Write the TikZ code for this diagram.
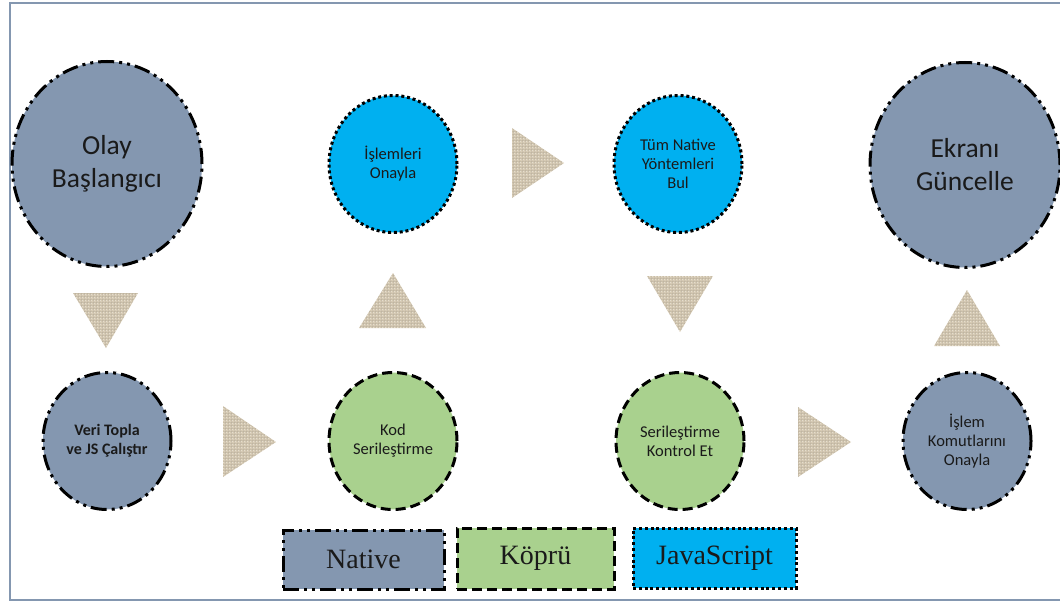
\documentclass[tikz,border=0pt]{standalone}
\usepackage{fontspec}
\setmainfont{Carlito}
\newfontfamily\legendfont{Liberation Serif}
\usetikzlibrary{shapes.geometric,patterns}
\definecolor{natfill}{HTML}{8497B0}
\definecolor{brfill}{HTML}{A9D18E}
\definecolor{jsfill}{HTML}{00B0F0}
\definecolor{framec}{HTML}{8497B0}
\definecolor{tric}{HTML}{D6CAB3}
\definecolor{txt}{HTML}{1A1A1A}
\tikzset{
  nativeline/.style={line width=3pt, dash pattern=on 16pt off 5pt on 3pt off 5pt on 3pt off 5pt},
  bridgeline/.style={line width=3pt, dash pattern=on 10pt off 5pt},
  jsline/.style={line width=3pt, dash pattern=on 3pt off 2.8pt},
  bignode/.style={ellipse, inner sep=0pt, minimum width=190pt, minimum height=205pt, align=center, text=txt, font=\fontsize{27.5}{33}\selectfont},
  smallnode/.style={ellipse, inner sep=0pt, minimum width=128pt, minimum height=137pt, align=center, text=txt, font=\fontsize{16.5}{19}\selectfont},
  natnode/.style={fill=natfill, draw=black, nativeline},
  brnode/.style={fill=brfill, draw=black, bridgeline},
  jsnode/.style={fill=jsfill, draw=black, jsline},
  legendbox/.style={inner sep=0pt, text=txt, font=\legendfont\fontsize{28}{32}\selectfont},
  tri/.style={fill=tric},
  tritexa/.style={pattern=crosshatch dots, pattern color=white, opacity=0.45},
  tritexb/.style={pattern=grid, pattern color=black, opacity=0.06},
}
\begin{document}
\begin{tikzpicture}[x=1pt,y=-1pt]
\useasboundingbox (0,0) rectangle (1060,602);
% frame
\draw[framec, line width=2pt] (9,3) -- (1060,3);
\draw[framec, line width=2.6pt] (10,2) -- (10,601);
\draw[framec, line width=1.5pt] (9,600) -- (1060,600);

% circles
\node[bignode, natnode] (olay) at (107,164) {Olay\\Başlangıcı};
\node[smallnode, jsnode] (onayla) at (393,164) {İşlemleri\\Onayla};
\node[smallnode, jsnode] (bul) at (678,164) {Tüm Native\\Yöntemleri\\Bul};
\node[bignode, natnode] (ekran) at (965,165) {Ekranı\\Güncelle};
\node[smallnode, natnode, font=\bfseries\fontsize{16}{19}\selectfont] (veri) at (107,441) {Veri Topla\\ve JS Çalıştır};
\node[smallnode, brnode] (kod) at (393,441) {Kod\\Serileştirme};
\node[smallnode, brnode] (kontrol) at (680,441) {Serileştirme\\Kontrol Et};
\node[smallnode, natnode] (komut) at (967,441) {İşlem\\Komutlarını\\Onayla};

% triangles
\foreach \p in {
  {(73,293) -- (138,293) -- (106,348) -- cycle},
  {(223,406) -- (276,442) -- (223,477) -- cycle},
  {(359,328) -- (393,273) -- (426,328) -- cycle},
  {(512,128) -- (564,163) -- (512,198) -- cycle},
  {(647,276) -- (713,276) -- (680,332) -- cycle},
  {(798,407) -- (851,442) -- (798,477) -- cycle},
  {(934,346) -- (967,290) -- (1000,346) -- cycle}} {
  \path[tri] \p;
  \path[tritexa] \p;
  \path[tritexb] \p;
}

% legend
\node[legendbox, fill=natfill, draw=black, nativeline, minimum width=161pt, minimum height=59pt] (lnat) at (363.5,559.5) {Native};
\node[legendbox, fill=brfill, draw=black, bridgeline, minimum width=157pt, minimum height=61pt] (lbr) at (535.5,558.5) {Köprü};
\node[legendbox, fill=jsfill, draw=black, jsline, minimum width=163pt, minimum height=60pt] (ljs) at (714.5,558) {JavaScript};
\end{tikzpicture}
\end{document}
